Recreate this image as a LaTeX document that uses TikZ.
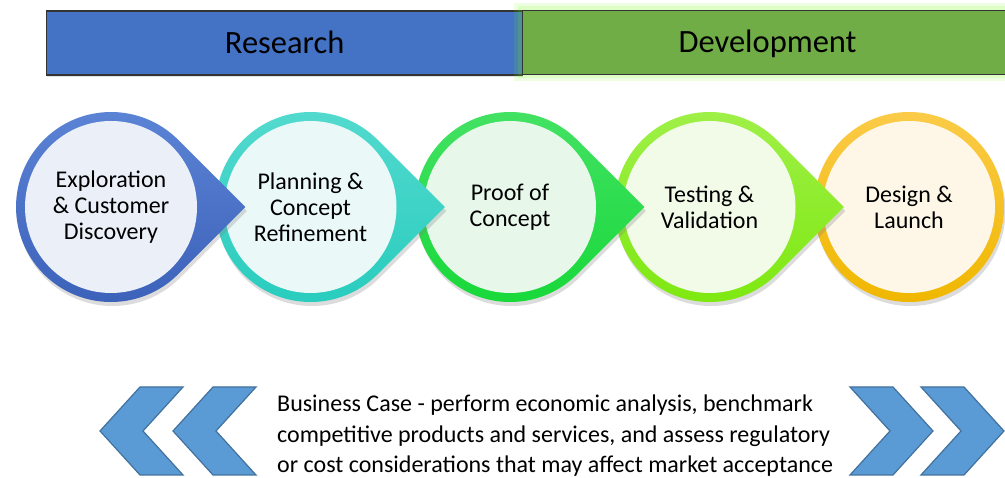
\documentclass[tikz,border=0pt]{standalone}
\usepackage{fontspec}
\setmainfont{Carlito}
\usetikzlibrary{shadows}
\definecolor{resblue}{HTML}{4472C4}
\definecolor{devgreen}{HTML}{70AD47}
\definecolor{chevblue}{HTML}{5B9BD5}
\definecolor{chevedge}{HTML}{41719C}
\definecolor{aTop}{HTML}{5D85D6}\definecolor{aBot}{HTML}{3A60B8}\definecolor{aIn}{HTML}{EAEFF8}
\definecolor{bTop}{HTML}{55DACF}\definecolor{bBot}{HTML}{27CCBD}\definecolor{bIn}{HTML}{EAF9F8}
\definecolor{cTop}{HTML}{45E265}\definecolor{cBot}{HTML}{16D838}\definecolor{cIn}{HTML}{E7F8EB}
\definecolor{dTop}{HTML}{A0F04A}\definecolor{dBot}{HTML}{7DE80E}\definecolor{dIn}{HTML}{F1FBE7}
\definecolor{eTop}{HTML}{FBCB48}\definecolor{eBot}{HTML}{F0B700}\definecolor{eIn}{HTML}{FEF7E8}
\newcommand\dropshape[6]{%
  \path[top color=#2, bottom color=#3,
        drop shadow={opacity=0.28, shadow xshift=1.5pt, shadow yshift=-4pt}]
    (#1+134.35,207) -- (#1+67.18,207+67.18) arc[start angle=45,end angle=315,radius=95] -- cycle;
  \fill[#4] (#1,207) circle[radius=86];
  \node[lbl] (#5) at (#1,207) {#6};
}
\begin{document}
\begin{tikzpicture}[x=1pt,y=-1pt,
  bar/.style={draw=black!80, line width=1.2pt, minimum height=64pt, inner sep=0pt,
              text height=24pt, text depth=4pt,
              font=\fontsize{32.5}{38}\selectfont, anchor=north west},
  lbl/.style={font=\fontsize{24}{26}\selectfont, align=center},
  chev/.style={fill=chevblue, draw=chevedge, line width=1.2pt, line join=miter},
]
\useasboundingbox (0,0) rectangle (1005,478);
% header bars
\node[bar, fill=resblue, minimum width=476pt,
      drop shadow={opacity=0.22, shadow xshift=0pt, shadow yshift=-2pt}] (res) at (46,10.5) {Research};
\fill[green!45!lime, opacity=0.12] (514,3) rectangle (1012,81);
\fill[green!45!lime, opacity=0.12] (518,6) rectangle (1012,78);
\node[bar, fill=devgreen, minimum width=490pt] (dev) at (522,10) {Development};
% stages (right to left so each tip lies over the next circle)
\path[top color=eTop, bottom color=eBot,
      drop shadow={opacity=0.28, shadow xshift=1.5pt, shadow yshift=-4pt}]
  (909,207) circle[radius=95];
\fill[eIn] (909,207) circle[radius=86];
\node[lbl] (s5) at (909,207) {Design \&\\Launch};
\dropshape{709.5}{dTop}{dBot}{dIn}{s4}{Testing \&\\Validation}
\dropshape{510}{cTop}{cBot}{cIn}{s3}{Proof of\\Concept}
\dropshape{310.5}{bTop}{bBot}{bIn}{s2}{Planning \&\\Concept\\Refinement}
\dropshape{111}{aTop}{aBot}{aIn}{s1}{Exploration\\\& Customer\\Discovery}
% chevrons
\draw[chev] (100,431) -- (140,387) -- (183,387) -- (143,431) -- (183,475) -- (140,475) -- cycle;
\draw[chev] (173,431) -- (213,387) -- (256,387) -- (216,431) -- (256,475) -- (213,475) -- cycle;
\draw[chev] (850,387) -- (893,387) -- (933,431) -- (893,475) -- (850,475) -- (890,431) -- cycle;
\draw[chev] (921,387) -- (964,387) -- (1004,431) -- (964,475) -- (921,475) -- (961,431) -- cycle;
% business case text
\node[anchor=west, align=left, inner sep=0pt, font=\fontsize{24}{30.5}\selectfont] (bc) at (277,436)
  {Business Case - perform economic analysis, benchmark\\
   competitive products and services, and assess regulatory\\
   or cost considerations that may affect market acceptance};
\end{tikzpicture}
\end{document}
